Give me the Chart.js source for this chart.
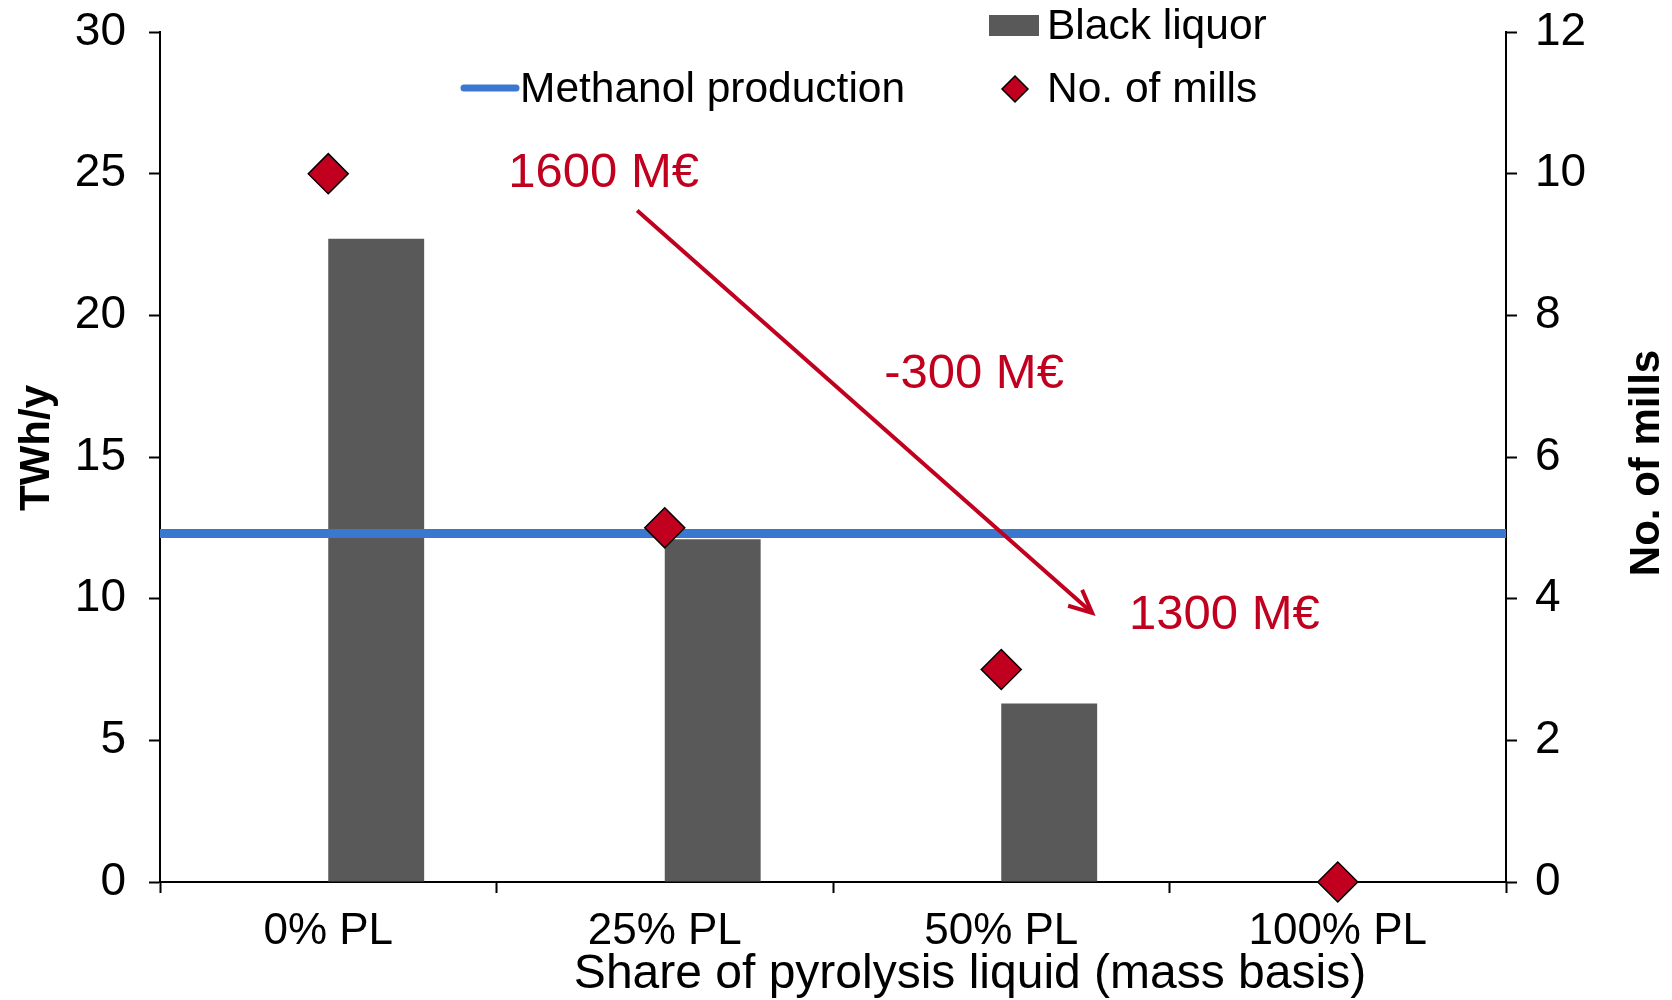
<!DOCTYPE html>
<html>
<head>
<meta charset="utf-8">
<script src="https://cdn.jsdelivr.net/npm/chart.js@4.4.1/dist/chart.umd.min.js"></script>
<style>
  body { margin: 0; background: #fff; }
  #wrap { width: 1672px; height: 1000px; }
</style>
</head>
<body>
<div id="wrap"><canvas id="mycanvas" width="1672" height="1000"></canvas></div>
<script>
// values
var categories = ['0% PL', '25% PL', '50% PL', '100% PL'];
var blackLiquor = [22.7, 12.1, 6.3, 0];     // TWh/y
var methanolLevel = 12.3;                   // TWh/y, flat line
var noOfMills = [10, 5, 3, 0];              // right axis

// cost notes, placed in data units (x = category index, y = TWh/y)
var noteTexts = ['1600 M€', '-300 M€', '1300 M€'];
var noteX = [0.535, 1.652, 2.38];
var noteY = [25.0, 17.9, 9.4];
var arrowX = [0.918, 2.27];
var arrowY = [23.7, 9.5];

var FONT = "'Liberation Sans', Arial, sans-serif";
var RED = '#C0001E';
var GREY = '#595959';
var BLUE = '#3A78CF';

var extras = {
  id: 'extras',
  afterDatasetsDraw: function(chart) {
    var ctx = chart.ctx;
    var xs = chart.scales.xl, ys = chart.scales.y;
    ctx.save();
    // arrow with an open head
    var x1 = xs.getPixelForValue(arrowX[0]), y1 = ys.getPixelForValue(arrowY[0]);
    var x2 = xs.getPixelForValue(arrowX[1]), y2 = ys.getPixelForValue(arrowY[1]);
    var back = Math.atan2(y1 - y2, x1 - x2);
    var arm = 25, spread = 25 * Math.PI / 180;
    ctx.strokeStyle = RED;
    ctx.lineWidth = 4;
    ctx.lineJoin = 'miter';
    ctx.beginPath();
    ctx.moveTo(x1, y1);
    ctx.lineTo(x2, y2);
    ctx.stroke();
    ctx.beginPath();
    ctx.moveTo(x2 + Math.cos(back + spread) * arm, y2 + Math.sin(back + spread) * arm);
    ctx.lineTo(x2, y2);
    ctx.lineTo(x2 + Math.cos(back - spread) * arm, y2 + Math.sin(back - spread) * arm);
    ctx.stroke();
    // notes
    ctx.fillStyle = RED;
    ctx.font = '49px ' + FONT;
    ctx.textBaseline = 'middle';
    ctx.textAlign = 'left';
    for (var i = 0; i < noteTexts.length; i++) {
      ctx.fillText(noteTexts[i], xs.getPixelForValue(noteX[i]), ys.getPixelForValue(noteY[i]));
    }
    ctx.restore();
  },
  afterDraw: function(chart) {
    var ctx = chart.ctx;
    var a = chart.chartArea;
    ctx.save();
    ctx.fillStyle = '#000';
    // axis titles
    ctx.font = 'bold 42px ' + FONT;
    ctx.textAlign = 'center';
    ctx.textBaseline = 'middle';
    ctx.save();
    ctx.translate(37, (a.top + a.bottom) / 2 - 9);
    ctx.rotate(-Math.PI / 2);
    ctx.fillText('TWh/y', 0, 0);
    ctx.restore();
    ctx.save();
    ctx.translate(1647, (a.top + a.bottom) / 2 + 6);
    ctx.rotate(-Math.PI / 2);
    ctx.fillText('No. of mills', 0, 0);
    ctx.restore();
    ctx.font = '48px ' + FONT;
    ctx.fillText('Share of pyrolysis liquid (mass basis)', 970, 975);

    // legend
    ctx.font = '42.5px ' + FONT;
    ctx.textAlign = 'left';
    ctx.fillStyle = GREY;
    ctx.fillRect(989, 15, 50, 21);
    ctx.fillStyle = '#000';
    ctx.fillText('Black liquor', 1047, 27);

    ctx.beginPath();
    ctx.moveTo(1015, 76); ctx.lineTo(1028, 89); ctx.lineTo(1015, 102); ctx.lineTo(1002, 89);
    ctx.closePath();
    ctx.fillStyle = RED;
    ctx.fill();
    ctx.lineWidth = 1.5;
    ctx.strokeStyle = '#000';
    ctx.stroke();
    ctx.fillStyle = '#000';
    ctx.fillText('No. of mills', 1047, 90);

    ctx.beginPath();
    ctx.moveTo(464, 88); ctx.lineTo(516, 88);
    ctx.lineWidth = 7;
    ctx.lineCap = 'round';
    ctx.strokeStyle = BLUE;
    ctx.stroke();
    ctx.fillText('Methanol production', 520, 90);
    ctx.restore();
  }
};

var chartdata = {
  labels: categories,
  datasets: [
    {
      type: 'line',
      label: 'No. of mills',
      data: noOfMills,
      yAxisID: 'y2',
      showLine: false,
      pointStyle: 'rectRot',
      pointRadius: 20,
      pointBackgroundColor: RED,
      pointBorderColor: '#000',
      pointBorderWidth: 1.5,
      clip: false,
      order: 0
    },
    {
      type: 'line',
      label: 'Methanol production',
      data: [{x: -0.5, y: methanolLevel}, {x: 3.5, y: methanolLevel}],
      xAxisID: 'xl',
      yAxisID: 'y',
      borderColor: BLUE,
      borderWidth: 9,
      pointRadius: 0,
      order: 1
    },
    {
      // bars sit on their own index axis, shifted so each bar fills the right half of its slot
      type: 'bar',
      label: 'Black liquor',
      data: blackLiquor.map(function(v, i) { return {x: i, y: v}; }),
      xAxisID: 'xb',
      yAxisID: 'y',
      backgroundColor: GREY,
      grouped: false,
      categoryPercentage: 0.285,
      barPercentage: 1.0,
      order: 2
    }
  ]
};

function noScalePadding(s) {
  s.paddingTop = 0;
  s.paddingBottom = 0;
}

var ctx = document.getElementById('mycanvas');
var chart = new Chart(ctx, {
  data: chartdata,
  plugins: [extras],
  options: {
    responsive: false,
    devicePixelRatio: 1,
    animation: false,
    layout: { padding: { top: 32, left: 0, right: 0, bottom: 0 } },
    plugins: { legend: { display: false }, tooltip: { enabled: false } },
    scales: {
      x: {
        type: 'category',
        offset: true,
        grid: { offset: true, drawOnChartArea: false, drawTicks: true, tickLength: 11, tickColor: '#000', tickWidth: 2 },
        border: { display: true, color: '#000', width: 2 },
        ticks: { color: '#000', font: { family: FONT, size: 44 }, padding: 12, maxRotation: 0 },
        afterFit: function(s) { s.height = 118; }
      },
      xl: { type: 'linear', display: false, min: -0.5, max: 3.5 },
      xb: {
        type: 'linear', display: false, offset: false, min: -0.6425, max: 3.3575,
        afterBuildTicks: function(s) { s.ticks = categories.map(function(c, i) { return {value: i}; }); }
      },
      y: {
        position: 'left',
        min: 0, max: 30,
        ticks: { stepSize: 5, color: '#000', font: { family: FONT, size: 46 }, padding: 23 },
        grid: { drawOnChartArea: false, drawTicks: true, tickLength: 11, tickColor: '#000', tickWidth: 2 },
        border: { display: true, color: '#000', width: 2 },
        afterFit: function(s) { s.width = 160; noScalePadding(s); }
      },
      y2: {
        position: 'right',
        min: 0, max: 12,
        ticks: { stepSize: 2, color: '#000', font: { family: FONT, size: 46 }, padding: 18 },
        grid: { drawOnChartArea: false, drawTicks: true, tickLength: 11, tickColor: '#000', tickWidth: 2 },
        border: { display: true, color: '#000', width: 2 },
        afterFit: function(s) { s.width = 166; noScalePadding(s); }
      }
    }
  }
});
</script>
</body>
</html>
